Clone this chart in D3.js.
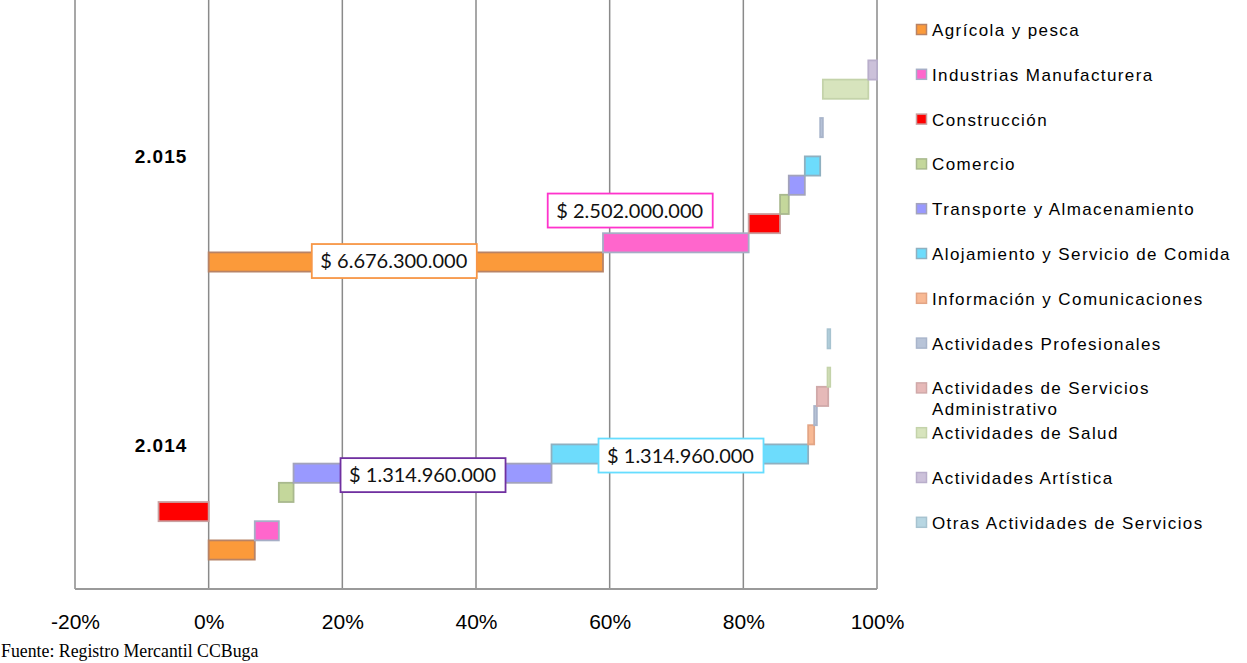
<!DOCTYPE html>
<html>
<head>
<meta charset="utf-8">
<script src="https://cdn.jsdelivr.net/npm/d3@7"></script>
<style>
  body { margin: 0; background: #fff; }
  svg { display: block; }
</style>
</head>
<body>
<div id="graphic"></div>
<script>
// sectores economicos (orden de abajo hacia arriba en cada año)
var sectores = [
  "Agrícola y pesca",
  "Industrias Manufacturera",
  "Construcción",
  "Comercio",
  "Transporte y Almacenamiento",
  "Alojamiento y Servicio de Comida",
  "Información y Comunicaciones",
  "Actividades Profesionales",
  "Actividades de Servicios Administrativo",
  "Actividades de Salud",
  "Actividades Artística",
  "Otras Actividades de Servicios"
];

var relleno = ["#fb9a3a", "#ff66cc", "#ff0000", "#c4d79b", "#9999ff", "#6ddcfc",
               "#f8b994", "#b8c4d8", "#e6b9b8", "#d7e4bd", "#ccc1da", "#b7d6e2"];
var borde = ["#b88366", "#a6aec6", "#c9a0a0", "#a9b98e", "#a3a3bb", "#8fb0c0",
             "#e3a585", "#a9b5cb", "#d0a9a9", "#c4d3aa", "#b9aecb", "#a7c3d0"];

// participacion acumulada (inicio y fin de cada barra)
var desde2014 = [0, 0.069, -0.075, 0.105, 0.127, 0.513, 0.897, 0.906, 0.910, 0.926, 0.929, 0.926];
var hasta2014 = [0.069, 0.105, 0, 0.127, 0.513, 0.897, 0.906, 0.910, 0.927, 0.930, 0.929, 0.930];
var desde2015 = [0, 0.590, 0.808, 0.855, 0.868, 0.892, 0.915, 0.915, 0.919, 0.919, 0.987, 1.0];
var hasta2015 = [0.590, 0.808, 0.855, 0.868, 0.892, 0.915, 0.915, 0.919, 0.919, 0.987, 1.0, 1.0];

var anios = ["2.014", "2.015"];
var ticks = [-0.2, 0, 0.2, 0.4, 0.6, 0.8, 1.0];

// etiquetas de valor: sector, año, texto
var etiquetas = [
  { sector: 0, anio: 1, texto: "$ 6.676.300.000" },
  { sector: 1, anio: 1, texto: "$ 2.502.000.000" },
  { sector: 4, anio: 0, texto: "$ 1.314.960.000" },
  { sector: 5, anio: 0, texto: "$ 1.314.960.000" }
];
// ubicacion de cada etiqueta (valor x, fila) y color del recuadro
var ubicacion = [
  { x: 0.277, fila: 15.05, color: "#f79646" },
  { x: 0.630, fila: 17.68, color: "#ff33cc" },
  { x: 0.320, fila: 3.90, color: "#7030a0" },
  { x: 0.706, fila: 4.92, color: "#66ddff" }
];

var w = 1247, h = 663;
var svg = d3.select("#graphic").append("svg")
    .attr("width", w).attr("height", h);

var xScale = d3.scaleLinear().domain([-0.2, 1.0]).range([75, 877]);
var yScale = d3.scaleLinear().domain([0, 26]).range([550, 50.8]);
var rowH = yScale(0) - yScale(1);
var filaAnio = [0, 15];

// gridlines
svg.append("g").selectAll("line")
   .data(ticks)
   .enter()
   .append("line")
   .attr("x1", function(d){ return xScale(d); })
   .attr("x2", function(d){ return xScale(d); })
   .attr("y1", 0)
   .attr("y2", 589)
   .attr("stroke", "#8a8a8a")
   .attr("stroke-width", 1.5);

svg.append("line")
   .attr("x1", 75).attr("x2", 877)
   .attr("y1", 589).attr("y2", 589)
   .attr("stroke", "#9a9a9a")
   .attr("stroke-width", 2);

// tick labels
var xAxis = svg.append("g")
   .attr("transform", "translate(0,589)")
   .call(d3.axisBottom(xScale).tickValues(ticks).tickSize(0).tickPadding(25)
        .tickFormat(d3.format(".0%")));
xAxis.select(".domain").remove();
xAxis.selectAll("text")
   .attr("font-family", "Liberation Sans, Arial, sans-serif")
   .attr("font-size", "21px")
   .attr("fill", "#000")
   .text(function(d){ return d3.format(".0%")(d).replace("−", "-"); });

// barras
var barras = [];
for (var i = 0; i < sectores.length; i++) {
    barras.push({ s: i, fila: i + filaAnio[0], a: desde2014[i], b: hasta2014[i] });
    barras.push({ s: i, fila: i + filaAnio[1], a: desde2015[i], b: hasta2015[i] });
}
barras = barras.filter(function(d){ return d.b !== d.a; });

svg.append("g").selectAll("rect")
   .data(barras)
   .enter()
   .append("rect")
   .attr("x", function(d){ return xScale(Math.min(d.a, d.b)); })
   .attr("y", function(d){ return yScale(d.fila) - rowH / 2; })
   .attr("width", function(d){ return Math.max(1, Math.abs(xScale(d.b) - xScale(d.a))); })
   .attr("height", rowH)
   .attr("fill", function(d){ return relleno[d.s]; })
   .attr("stroke", function(d){ return borde[d.s]; })
   .attr("stroke-width", 1.8);

// etiquetas de valor
etiquetas.forEach(function(e, k){
    var u = ubicacion[k];
    var g = svg.append("g")
        .attr("transform", "translate(" + xScale(u.x) + "," + yScale(u.fila) + ")");
    g.append("rect")
     .attr("x", -82).attr("y", -17)
     .attr("width", 165).attr("height", 34)
     .attr("fill", "#fff")
     .attr("stroke", u.color)
     .attr("stroke-width", 1.8);
    g.append("text")
     .attr("text-anchor", "middle")
     .attr("dy", "0.36em")
     .attr("font-family", "Lato, sans-serif")
     .attr("font-size", "20px")
     .attr("fill", "#111")
     .text(e.texto);
});

// años
svg.append("g").selectAll("text")
   .data(anios)
   .enter()
   .append("text")
   .attr("x", 161)
   .attr("y", function(d, i){ return i === 1 ? 163 : 452; })
   .attr("text-anchor", "middle")
   .attr("font-family", "Liberation Sans, Arial, sans-serif")
   .attr("font-weight", "bold")
   .attr("font-size", "19px")
   .attr("letter-spacing", "1px")
   .text(function(d){ return d; });

// leyenda
var leg = svg.append("g").selectAll("g")
   .data(sectores)
   .enter()
   .append("g")
   .attr("transform", function(d, i){ return "translate(916," + (30 + i * 44.8) + ")"; });

leg.append("rect")
   .attr("x", 0.5).attr("y", -5.5)
   .attr("width", 10).attr("height", 10)
   .attr("fill", function(d, i){ return relleno[i]; })
   .attr("stroke", function(d, i){ return borde[i]; })
   .attr("stroke-width", 1.5);

leg.append("text")
   .attr("x", 16)
   .attr("font-family", "Liberation Sans, Arial, sans-serif")
   .attr("font-size", "17px")
   .attr("letter-spacing", "1.4px")
   .attr("fill", "#000")
   .each(function(d){
       var t = d3.select(this);
       if (d === "Actividades de Servicios Administrativo") {
           t.append("tspan").attr("x", 16).attr("y", 6).text("Actividades de Servicios");
           t.append("tspan").attr("x", 16).attr("y", 27).text("Administrativo");
       } else {
           t.attr("y", 6).text(d);
       }
   });

// fuente
svg.append("text")
   .attr("x", 1)
   .attr("y", 657)
   .attr("font-family", "Liberation Serif, Times New Roman, serif")
   .attr("font-size", "17.8px")
   .text("Fuente: Registro Mercantil CCBuga");
</script>
</body>
</html>
